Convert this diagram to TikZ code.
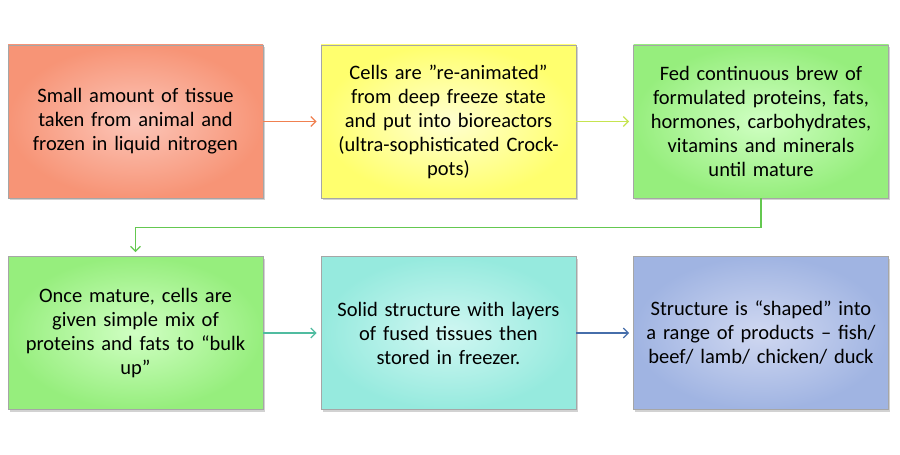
\documentclass[tikz,border=0pt]{standalone}
\usepackage{fontspec}
\setmainfont{Carlito}
\usetikzlibrary{shadows,arrows.meta,positioning}
\definecolor{redIn}{RGB}{252,198,185}
\definecolor{redOut}{RGB}{247,148,118}
\definecolor{yelIn}{RGB}{255,255,208}
\definecolor{yelOut}{RGB}{255,255,110}
\definecolor{grnIn}{RGB}{208,255,195}
\definecolor{grnOut}{RGB}{150,238,125}
\definecolor{cyaIn}{RGB}{208,247,242}
\definecolor{cyaOut}{RGB}{150,234,222}
\definecolor{bluIn}{RGB}{208,216,241}
\definecolor{bluOut}{RGB}{160,180,226}
\definecolor{arrO}{RGB}{240,128,80}
\definecolor{arrY}{RGB}{198,228,80}
\definecolor{arrG}{RGB}{100,200,80}
\definecolor{arrT}{RGB}{80,188,160}
\definecolor{arrB}{RGB}{70,110,170}
\tikzset{
  box/.style={draw=black!35, line width=0.6pt, minimum width=255pt, minimum height=153pt,
    text width=245pt, align=center, inner sep=0pt,
    font=\fontsize{20.5}{24}\selectfont,
    drop shadow={shadow xshift=1.5pt, shadow yshift=-2.5pt, opacity=0.35}},
  conn/.style={line width=1.3pt, -{Straight Barb[length=5pt,width=10pt]}}
}
\begin{document}
\begin{tikzpicture}[x=1pt,y=1pt]
\useasboundingbox (0,0) rectangle (900,455);
\fill[white] (0,0) rectangle (900,455);
\node[box, inner color=redIn, outer color=redOut] (a) at (135.5,333.5) {Small amount of tissue\\taken from animal and\\frozen in liquid nitrogen};
\node[box, inner color=yelIn, outer color=yelOut] (b) at (448.5,333.5) {Cells are ”re-animated”\\from deep freeze state\\and put into bioreactors\\(ultra-sophisticated Crock-\\pots)};
\node[box, inner color=grnIn, outer color=grnOut] (c) at (761,333.5) {Fed continuous brew of\\formulated proteins, fats,\\hormones, carbohydrates,\\vitamins and minerals\\until mature};
\node[box, inner color=grnIn, outer color=grnOut] (d) at (135.5,122) {Once mature, cells are\\given simple mix of\\proteins and fats to “bulk\\up”};
\node[box, inner color=cyaIn, outer color=cyaOut] (e) at (448.5,122) {Solid structure with layers\\of fused tissues then\\stored in freezer.};
\node[box, inner color=bluIn, outer color=bluOut] (f) at (761,122) {Structure is “shaped” into\\a range of products – fish/\\beef/ lamb/ chicken/ duck};
\draw[conn, draw=arrO] (a.east) -- ([xshift=-4pt]b.west);
\draw[conn, draw=arrY] (b.east) -- ([xshift=-4pt]c.west);
\draw[conn, draw=arrG] (c.south) -- ++(0,-29) -| ([yshift=4pt]d.north);
\draw[conn, draw=arrT] (d.east) -- ([xshift=-4pt]e.west);
\draw[conn, draw=arrB] (e.east) -- ([xshift=-4pt]f.west);
\end{tikzpicture}
\end{document}
